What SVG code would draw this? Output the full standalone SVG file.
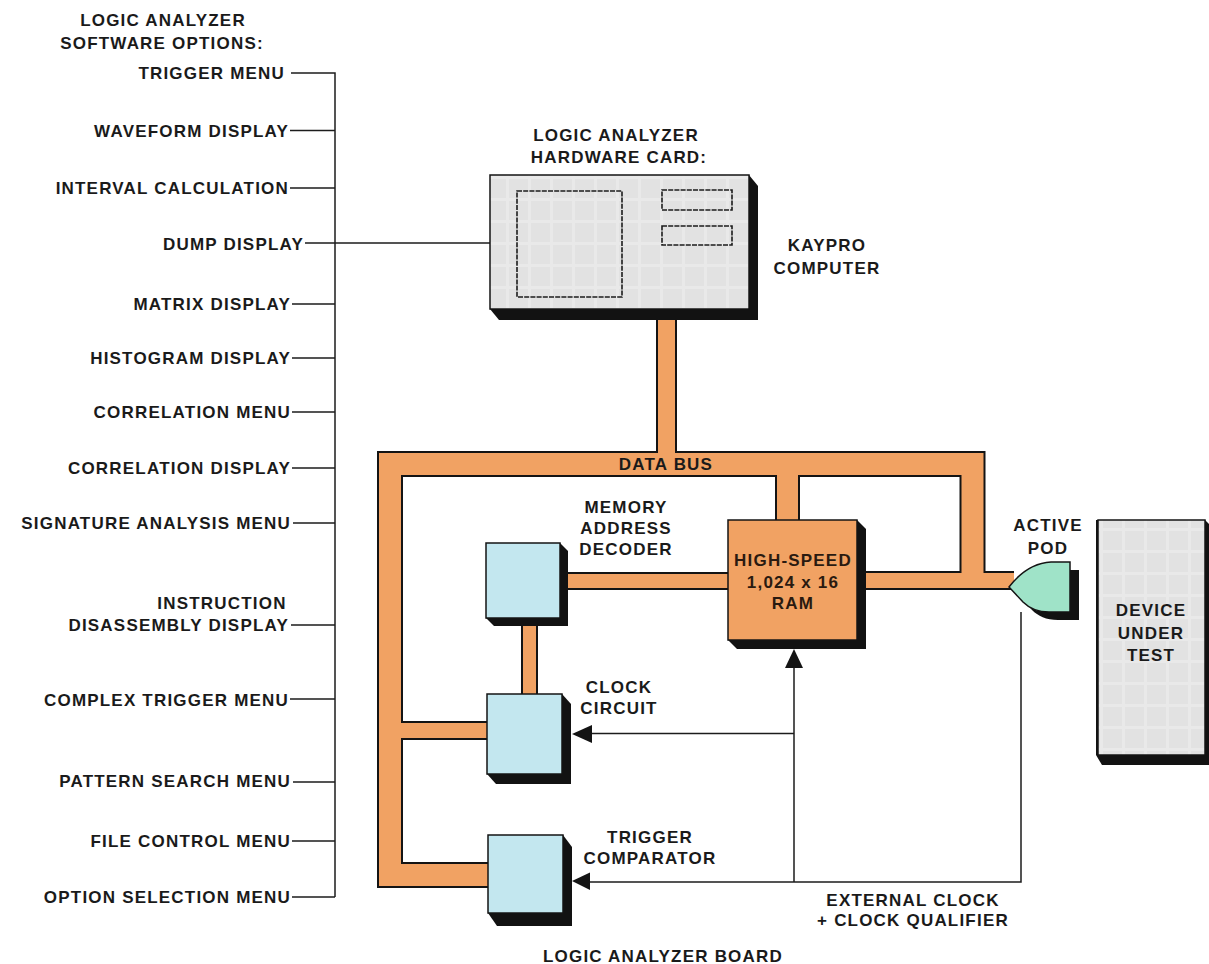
<svg xmlns="http://www.w3.org/2000/svg" width="1209" height="964" viewBox="0 0 1209 964">
<style>
text{font-family:"Liberation Sans",Arial,sans-serif;font-weight:bold;font-size:17px;fill:#1a1a1a;letter-spacing:1.2px}
.e{text-anchor:end}
.m{text-anchor:middle}
.ln{stroke:#1c1c1c;stroke-width:1.5;fill:none}
.bk{stroke:#141414;fill:none;stroke-linecap:butt;stroke-linejoin:miter}
.or{stroke:#f1a263;fill:none;stroke-linecap:butt;stroke-linejoin:miter}
.sh{fill:#121212}
.face{stroke:#141414;stroke-width:1.5}
.blue{fill:#c3e7ef}
.dash{fill:none;stroke:#1c1c1c;stroke-width:1.6;stroke-dasharray:5 1.2}
</style>
<defs>
<pattern id="grid" width="22" height="22" patternUnits="userSpaceOnUse">
<rect width="22" height="22" fill="#e2e2e2"/>
<path d="M0 0H22M0 0V22" stroke="#e9e9e9" stroke-width="6"/>
</pattern>
</defs>
<rect width="1209" height="964" fill="#ffffff"/>

<g id="software-options">
<text class="m" x="163" y="26">LOGIC ANALYZER</text>
<text class="m" x="162" y="49">SOFTWARE OPTIONS:</text>
<text class="e" x="285" y="79">TRIGGER MENU</text>
<text class="e" x="289" y="137">WAVEFORM DISPLAY</text>
<text class="e" x="289" y="194">INTERVAL CALCULATION</text>
<text class="e" x="304" y="250">DUMP DISPLAY</text>
<text class="e" x="291" y="310">MATRIX DISPLAY</text>
<text class="e" x="291" y="364">HISTOGRAM DISPLAY</text>
<text class="e" x="291" y="418">CORRELATION MENU</text>
<text class="e" x="291" y="474">CORRELATION DISPLAY</text>
<text class="e" x="291" y="529">SIGNATURE ANALYSIS MENU</text>
<text class="m" x="222" y="609">INSTRUCTION</text>
<text class="e" x="289" y="631">DISASSEMBLY DISPLAY</text>
<text class="e" x="289" y="706">COMPLEX TRIGGER MENU</text>
<text class="e" x="291" y="787">PATTERN SEARCH MENU</text>
<text class="e" x="291" y="847">FILE CONTROL MENU</text>
<text class="e" x="291" y="903">OPTION SELECTION MENU</text>
</g>

<g id="connectors">
<g id="option-lines">
<path class="ln" d="M291,73H335V897"/>
<path class="ln" d="M290,130.5H335M290,188H335M305,243H490M292,304H335M292,358H335M292,412H335M292,468H335M293,523H335M291,625H335M290,699H335M293,782H335M292,841H335M292,897H335"/>
</g>
<g id="bus">
<path class="bk" stroke-width="26" d="M490,875H390V464H972.5V580.5"/>
<path class="bk" stroke-width="21" d="M666.5,315V464"/>
<path class="bk" stroke-width="25" d="M787.5,464V525"/>
<path class="bk" stroke-width="19" d="M390,730.5H492"/>
<path class="bk" stroke-width="17" d="M529.5,615V698"/>
<path class="bk" stroke-width="18" d="M562,581H732"/>
<path class="bk" stroke-width="19" d="M860,580.5H1014"/>
<path class="or" stroke-width="22" d="M490,875H390V464H972.5V580.5"/>
<path class="or" stroke-width="17" d="M666.5,315V464"/>
<path class="or" stroke-width="21" d="M787.5,464V525"/>
<path class="or" stroke-width="15" d="M390,730.5H492"/>
<path class="or" stroke-width="13" d="M529.5,615V698"/>
<path class="or" stroke-width="14" d="M562,581H732"/>
<path class="or" stroke-width="15" d="M860,580.5H1014"/>
</g>
<g id="signal-lines">
<path class="ln" d="M794,668V882M794,733.5H590M1021,612V882H588"/>
<polygon fill="#141414" points="572,734 592,725 592,743"/>
<polygon fill="#141414" points="572,881 590,872.5 590,890"/>
<polygon fill="#141414" points="794,649 785,668 803,668"/>
</g>
</g>

<g id="computer">
<polygon class="sh" points="490,175 749,175 758,186 758,320 499,320 490,309"/>
<rect class="face" x="490" y="175" width="259" height="134" fill="url(#grid)"/>
<rect class="dash" x="517" y="191" width="105" height="106"/>
<rect class="dash" x="662" y="190" width="70" height="20"/>
<rect class="dash" x="662" y="226" width="70" height="19"/>
<text class="m" x="616" y="141">LOGIC ANALYZER</text>
<text class="m" x="619" y="163">HARDWARE CARD:</text>
<text class="m" x="827" y="251">KAYPRO</text>
<text class="m" x="827" y="274">COMPUTER</text>
</g>

<g id="decoder">
<polygon class="sh" points="486,543 560,543 568,551 568,626 494,626 486,618"/>
<rect class="face blue" x="486" y="543" width="74" height="75"/>
<text class="m" x="626" y="513">MEMORY</text>
<text class="m" x="626" y="534">ADDRESS</text>
<text class="m" x="626" y="555">DECODER</text>
</g>

<g id="clock">
<polygon class="sh" points="487,694 562,694 571,704 571,784 496,784 487,774"/>
<rect class="face blue" x="487" y="694" width="75" height="80"/>
<text class="m" x="619" y="693">CLOCK</text>
<text class="m" x="619" y="714">CIRCUIT</text>
</g>

<g id="trigger">
<polygon class="sh" points="488,835 563,835 572,847 572,926 497,926 488,913"/>
<rect class="face blue" x="488" y="835" width="75" height="78"/>
<text class="m" x="650" y="843">TRIGGER</text>
<text class="m" x="650" y="864">COMPARATOR</text>
</g>

<g id="ram">
<polygon class="sh" points="728,520 857,520 866,529 866,649 737,649 728,640"/>
<rect class="face" x="728" y="520" width="129" height="120" fill="#f1a263"/>
<text class="m" x="793" y="566" style="fill:#2a1a10">HIGH-SPEED</text>
<text class="m" x="793" y="588" style="fill:#2a1a10">1,024 x 16</text>
<text class="m" x="793" y="609" style="fill:#2a1a10">RAM</text>
</g>

<g id="pod">
<path class="sh" d="M1018,595 C1028,582 1042,571 1060,570 L1079,570 L1079,620 L1058,620 C1046,620 1038,616 1032,610 Z"/>
<path class="face" fill="#9fe3c8" d="M1009,587 C1019,574 1033,563 1051,562 L1070,562 L1070,612 L1049,612 C1037,612 1029,608 1023,602 Z"/>
<text class="m" x="1048" y="531">ACTIVE</text>
<text class="m" x="1048" y="554">POD</text>
</g>

<g id="dut">
<polygon class="sh" points="1096,520 1205,520 1211,526 1211,765 1102,765 1096,755"/>
<rect class="face" x="1098" y="520" width="107" height="235" fill="url(#grid)" stroke-width="2.5"/>
<text class="m" x="1151" y="616">DEVICE</text>
<text class="m" x="1151" y="639">UNDER</text>
<text class="m" x="1151" y="661">TEST</text>
</g>

<g id="labels">
<text class="m" x="913" y="906">EXTERNAL CLOCK</text>
<text class="m" x="913" y="926">+ CLOCK QUALIFIER</text>
<text class="m" x="663" y="962">LOGIC ANALYZER BOARD</text>
<text class="m" x="666" y="470">DATA BUS</text>
</g>
</svg>
